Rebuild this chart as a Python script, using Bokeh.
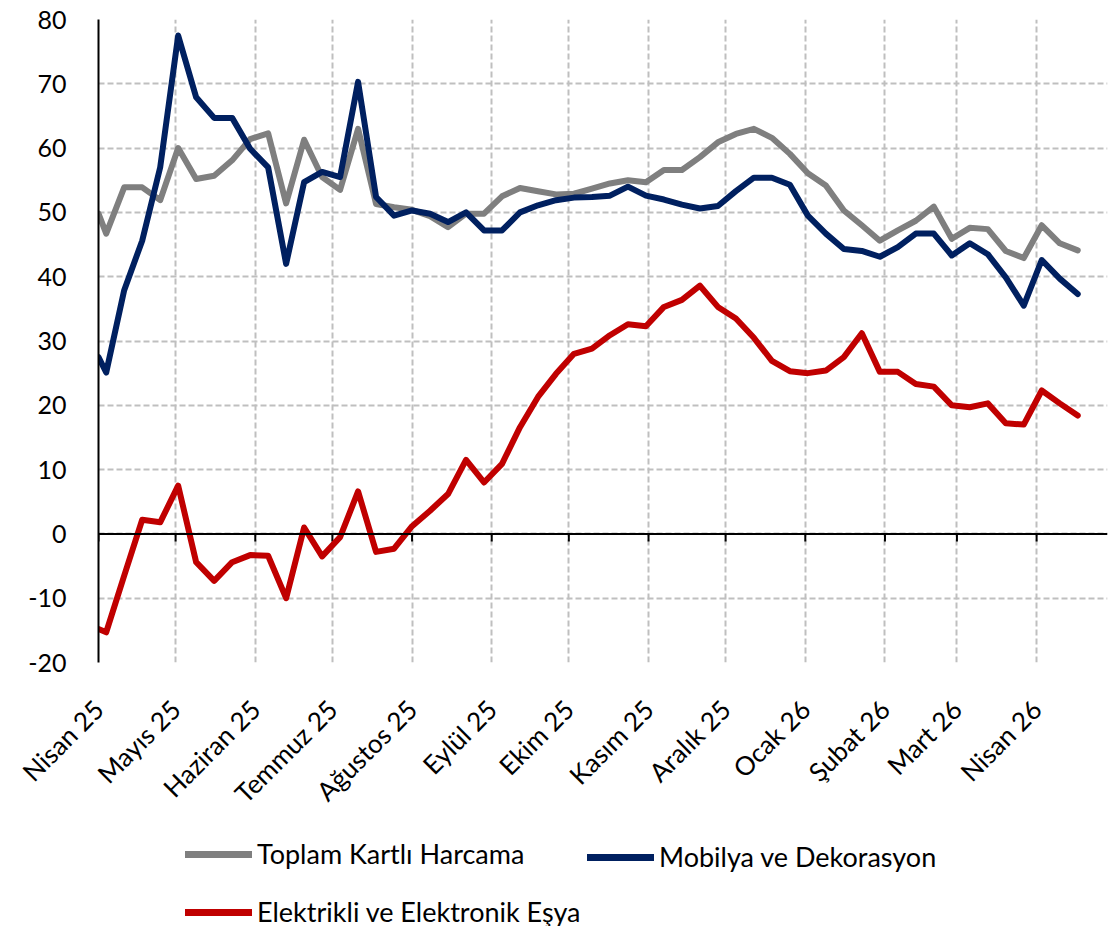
import math
from datetime import datetime
import pandas as pd
from bokeh.plotting import figure
from bokeh.layouts import column
from bokeh.models import (FixedTicker, Legend, LegendItem, Span, Range1d,
                          ColumnDataSource)
from bokeh.embed import file_html
from bokeh.resources import INLINE

# ---------------- data ----------------
dates = ["2025-04-01"] + [d.strftime("%Y-%m-%d")
                          for d in pd.date_range("2025-04-04", periods=55, freq="7D")]

toplam = [49.8, 46.7, 53.9, 53.9, 51.9, 60.0, 55.2, 55.7, 58.1, 61.4,
          62.3, 51.4, 61.3, 55.5, 53.5, 63.0, 51.3, 50.8, 50.4, 49.4,
          47.7, 49.8, 49.8, 52.5, 53.8, 53.3, 52.8, 52.9, 53.7, 54.5,
          55.0, 54.7, 56.6, 56.6, 58.6, 60.9, 62.2, 63.0, 61.6, 59.1,
          56.1, 54.2, 50.3, 48.0, 45.6, 47.2, 48.7, 50.9, 45.9, 47.6,
          47.4, 44.0, 42.9, 48.0, 45.2, 44.1]

mobilya = [27.5, 25.1, 37.9, 45.6, 57.0, 77.5, 67.9, 64.7, 64.7, 59.9,
           57.0, 42.0, 54.7, 56.3, 55.5, 70.3, 52.4, 49.5, 50.3, 49.8,
           48.5, 50.0, 47.2, 47.2, 50.0, 51.1, 51.9, 52.3, 52.4, 52.6,
           54.0, 52.6, 52.0, 51.2, 50.6, 51.0, 53.3, 55.4, 55.4, 54.3,
           49.5, 46.7, 44.3, 44.0, 43.1, 44.6, 46.7, 46.7, 43.3, 45.2,
           43.5, 39.9, 35.5, 42.6, 39.7, 37.3]

elektrik = [-14.8, -15.3, -6.5, 2.2, 1.8, 7.5, -4.4, -7.3, -4.4, -3.3,
            -3.4, -10.0, 1.0, -3.5, -0.5, 6.6, -2.8, -2.3, 1.2, 3.6,
            6.2, 11.5, 8.0, 10.9, 16.6, 21.3, 24.9, 28.0, 28.8, 30.9,
            32.6, 32.3, 35.3, 36.4, 38.6, 35.3, 33.5, 30.5, 26.9, 25.3,
            25.0, 25.4, 27.5, 31.2, 25.2, 25.2, 23.3, 22.9, 20.0, 19.7,
            20.3, 17.2, 17.0, 22.3, 20.3, 18.4]

month_starts = ["2025-04-01", "2025-05-01", "2025-06-01", "2025-07-01",
                "2025-08-01", "2025-09-01", "2025-10-01", "2025-11-01",
                "2025-12-01", "2026-01-01", "2026-02-01", "2026-03-01",
                "2026-04-01"]
month_labels = ["Nisan 25", "Mayıs 25", "Haziran 25", "Temmuz 25",
                "Ağustos 25", "Eylül 25", "Ekim 25", "Kasım 25",
                "Aralık 25", "Ocak 26", "Şubat 26", "Mart 26", "Nisan 26"]

y_ticks = [-20, -10, 0, 10, 20, 30, 40, 50, 60, 70, 80]
y_labels = ["-20", "-10", "0", "10", "20", "30", "40", "50", "60", "70", "80"]

series_names = ["Toplam Kartlı Harcama", "Mobilya ve Dekorasyon",
                "Elektrikli ve Elektronik Eşya"]
series_colors = ["#7F7F7F", "#002060", "#C00000"]

# ---------------- figure ----------------
FONT = "Lato"
LW = 6
x_dates = pd.to_datetime(dates)
m_dates = pd.to_datetime(month_starts)
m_ms = [int(d.value // 10**6) for d in m_dates]

p = figure(frame_width=1009, frame_height=643,
           x_axis_type="datetime",
           x_range=Range1d(datetime(2025, 4, 1), datetime(2026, 4, 28, 14)),
           y_range=Range1d(-20, 80),
           output_backend="svg", toolbar_location=None,
           min_border_left=98, min_border_right=8,
           min_border_top=19, min_border_bottom=158)
p.outline_line_color = None
p.background_fill_color = "white"
p.border_fill_color = "white"

# grid
p.xgrid.ticker = FixedTicker(ticks=m_ms)
p.ygrid.ticker = FixedTicker(ticks=y_ticks)
for g in (p.xgrid, p.ygrid):
    g.grid_line_color = "#BFBFBF"
    g.grid_line_width = 2
    g.grid_line_dash = "6 3"

# x axis (labels only at bottom)
xa = p.xaxis[0]
xa.ticker = FixedTicker(ticks=m_ms)
xa.major_label_overrides = {ms: lab for ms, lab in zip(m_ms, month_labels)}
xa.major_label_orientation = math.pi / 4
xa.axis_line_color = None
xa.major_tick_line_color = None
xa.minor_tick_line_color = None
xa.major_label_standoff = 36
xa.major_label_text_font = FONT
xa.major_label_text_font_size = "26px"
xa.major_label_text_color = "black"

# y axis
ya = p.yaxis[0]
ya.ticker = FixedTicker(ticks=y_ticks)
ya.major_label_overrides = {t: lab for t, lab in zip(y_ticks, y_labels)}
ya.axis_line_color = "black"
ya.axis_line_width = 2
ya.major_tick_line_color = None
ya.minor_tick_line_color = None
ya.major_label_standoff = 26
ya.major_label_text_font = FONT
ya.major_label_text_font_size = "25px"
ya.major_label_text_color = "black"

# zero line with outward tick marks
p.add_layout(Span(location=0, dimension="width", line_color="black", line_width=2))
p.segment(x0=m_dates, y0=[0] * len(m_dates), x1=m_dates, y1=[-1.2] * len(m_dates),
          line_color="black", line_width=2)

# series
for vals, col in zip([toplam, mobilya, elektrik], series_colors):
    src = ColumnDataSource(dict(x=x_dates, y=vals))
    p.line("x", "y", source=src, line_color=col, line_width=LW,
           line_join="round", line_cap="round")

# ---------------- legend strip ----------------
lg = figure(width=1115, height=106, x_range=Range1d(0, 1), y_range=Range1d(0, 1),
            output_backend="svg", toolbar_location=None,
            x_axis_location=None, y_axis_location=None,
            min_border=0)
lg.outline_line_color = None
lg.grid.visible = False
nan = float("nan")
keys = []
for col in series_colors:
    # legend keys only: no visible data points
    keys.append(lg.line(x=[0, 1], y=[nan, nan], line_color=col, line_width=7,
                        line_join="round", line_cap="round"))

common = dict(orientation="vertical", glyph_width=67, glyph_height=30,
              label_height=30, padding=0, margin=0, border_line_color=None,
              background_fill_alpha=0, label_text_font=FONT,
              label_text_font_size="27px", label_standoff=5,
              label_text_color="black", spacing=25)

legA = Legend(items=[LegendItem(label=series_names[0], renderers=[keys[0]]),
                     LegendItem(label=series_names[2], renderers=[keys[2]])],
              location=(87, 1), **common)
legB = Legend(items=[LegendItem(label=series_names[1], renderers=[keys[1]])],
              location=(489, 56), **common)
lg.add_layout(legA)
lg.add_layout(legB)

layout = column(p, lg, spacing=0)
open("out.html", "w").write(file_html(layout, INLINE))
